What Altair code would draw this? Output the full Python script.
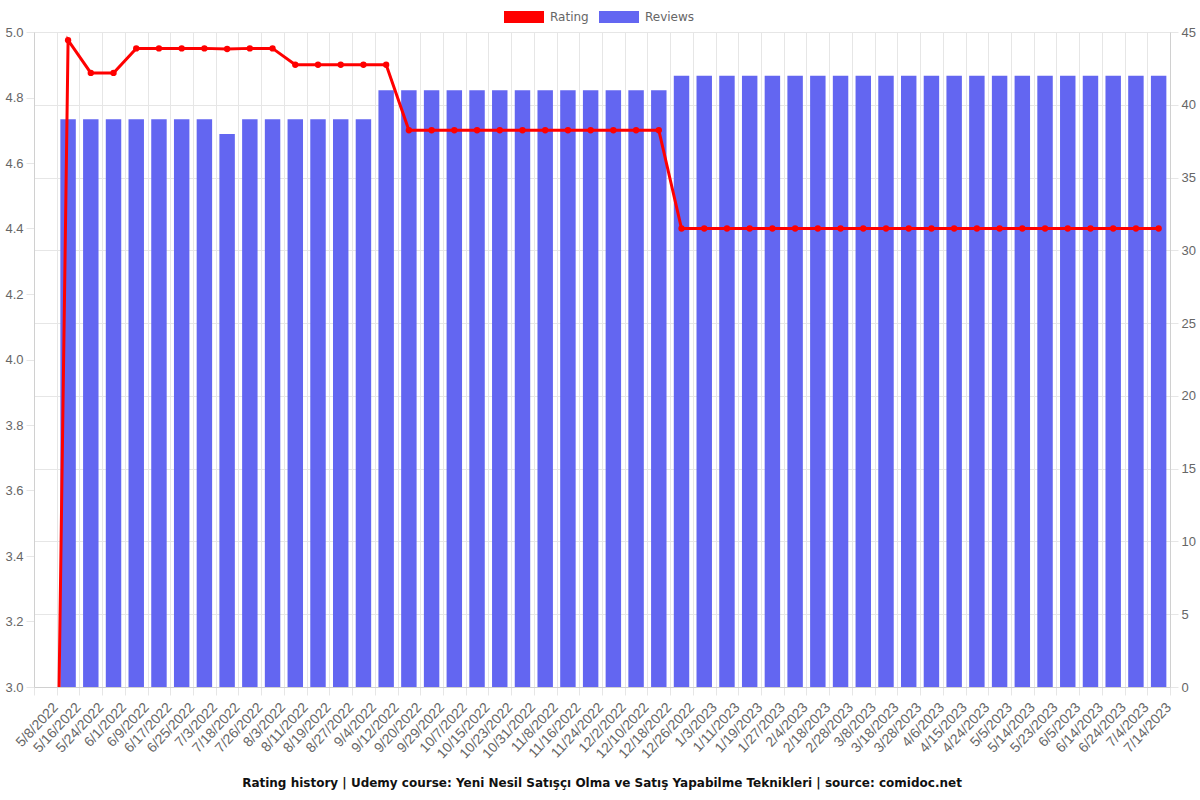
import altair as alt
import pandas as pd

dates = ["5/8/2022", "5/16/2022", "5/24/2022", "6/1/2022", "6/9/2022", "6/17/2022", "6/25/2022",
         "7/3/2022", "7/18/2022", "7/26/2022", "8/3/2022", "8/11/2022", "8/19/2022", "8/27/2022",
         "9/4/2022", "9/12/2022", "9/20/2022", "9/29/2022", "10/7/2022", "10/15/2022", "10/23/2022",
         "10/31/2022", "11/8/2022", "11/16/2022", "11/24/2022", "12/2/2022", "12/10/2022",
         "12/18/2022", "12/26/2022", "1/3/2023", "1/11/2023", "1/19/2023", "1/27/2023", "2/4/2023",
         "2/18/2023", "2/28/2023", "3/8/2023", "3/18/2023", "3/28/2023", "4/6/2023", "4/15/2023",
         "4/24/2023", "5/5/2023", "5/14/2023", "5/23/2023", "6/5/2023", "6/14/2023", "6/24/2023",
         "7/4/2023", "7/14/2023"]

rating = [0, 4.975, 4.875, 4.875, 4.95, 4.95, 4.95, 4.95, 4.948, 4.95, 4.95,
          4.9, 4.9, 4.9, 4.9, 4.9,
          4.7, 4.7, 4.7, 4.7, 4.7, 4.7, 4.7, 4.7, 4.7, 4.7, 4.7, 4.7,
          4.4, 4.4, 4.4, 4.4, 4.4, 4.4, 4.4, 4.4, 4.4, 4.4, 4.4,
          4.4, 4.4, 4.4, 4.4, 4.4, 4.4, 4.4, 4.4, 4.4, 4.4, 4.4]

reviews = [None, 39, 39, 39, 39, 39, 39, 39, 38, 39, 39, 39, 39, 39, 39,
           41, 41, 41, 41, 41, 41, 41, 41, 41, 41, 41, 41, 41,
           42, 42, 42, 42, 42, 42, 42, 42, 42, 42, 42,
           42, 42, 42, 42, 42, 42, 42, 42, 42, 42, 42]

rating_ticks = [3.0, 3.2, 3.4, 3.6, 3.8, 4.0, 4.2, 4.4, 4.6, 4.8, 5.0]
review_ticks = [0, 5, 10, 15, 20, 25, 30, 35, 40, 45]
series = ["Rating", "Reviews"]
colors = ["#ff0000", "#6366f1"]

df = pd.DataFrame({"date": dates, "rating": rating, "reviews": reviews})

FONT = "DejaVu Sans"
GRID = "#e6e6e6"
LABEL_SIZE = 13

xaxis = alt.Axis(title=None, labelAngle=-47, labelAlign="right", labelBaseline="top",
                 labelFontSize=14, labelColor="#666", tickBand="extent", grid=True,
                 gridColor=GRID, tickColor=GRID, tickSize=8, domainColor="#d0d0d0",
                 labelPadding=5, labelOffset=5, labelOverlap=False)
x = alt.X("date:N", sort=dates, scale=alt.Scale(paddingInner=0, paddingOuter=0), axis=xaxis)

color_scale = alt.Scale(domain=series, range=colors)

base = alt.Chart(df)

bars = base.transform_calculate(series="'Reviews'").mark_bar(
    width=alt.RelativeBandSize(0.68)
).encode(
    x=x,
    y=alt.Y("reviews:Q", scale=alt.Scale(domain=[0, 45], nice=False),
            axis=alt.Axis(orient="right", values=review_ticks, title=None,
                          labelFontSize=LABEL_SIZE, labelColor="#666", gridColor=GRID,
                          tickColor=GRID, tickSize=8, domainColor="#d0d0d0", labelPadding=3)),
    color=alt.Color("series:N", scale=color_scale,
                    legend=alt.Legend(orient="none", direction="horizontal", legendX=470,
                                      legendY=-35, title=None,
                                      symbolType="M-1,-0.3L1,-0.3L1,0.3L-1,0.3Z",
                                      symbolSize=1600, labelFontSize=12, labelColor="#666",
                                      labelFont=FONT, columnPadding=10, labelOffset=6,
                                      symbolStrokeWidth=0, symbolOpacity=1)),
)

yr = alt.Y("rating:Q", scale=alt.Scale(domain=[3, 5], nice=False, zero=False),
           axis=alt.Axis(orient="left", values=rating_ticks, format=".1f", title=None,
                         labelFontSize=LABEL_SIZE, labelColor="#666", gridColor=GRID,
                         tickColor=GRID, tickSize=8, domainColor="#d0d0d0", labelPadding=3))

line = base.transform_calculate(series="'Rating'").mark_line(clip=True, strokeWidth=3).encode(
    x=x, y=yr, color=alt.Color("series:N", scale=color_scale, legend=None)
)
points = base.transform_calculate(series="'Rating'").mark_circle(
    clip=True, size=40, opacity=1
).encode(
    x=x, y=yr, color=alt.Color("series:N", scale=color_scale, legend=None)
)

rating_layer = alt.layer(line, points)

chart = alt.layer(bars, rating_layer).resolve_scale(y="independent").resolve_legend(
    color="independent"
).properties(
    width=1136, height=655,
    autosize=alt.AutoSizeParams(type="none"),
    padding={"left": 34, "top": 32, "right": 30, "bottom": 113},
    title=alt.Title("Rating history | Udemy course: Yeni Nesil Satışçı Olma ve Satış Yapabilme Teknikleri | source: comidoc.net",
                    orient="bottom", fontSize=12, font=FONT, fontWeight="bold", color="#111",
                    offset=17),
).configure_view(stroke=None).configure_axis(labelFont=FONT).configure(background="white")

chart.save("out.html", embed_options={"renderer": "svg", "actions": False})
